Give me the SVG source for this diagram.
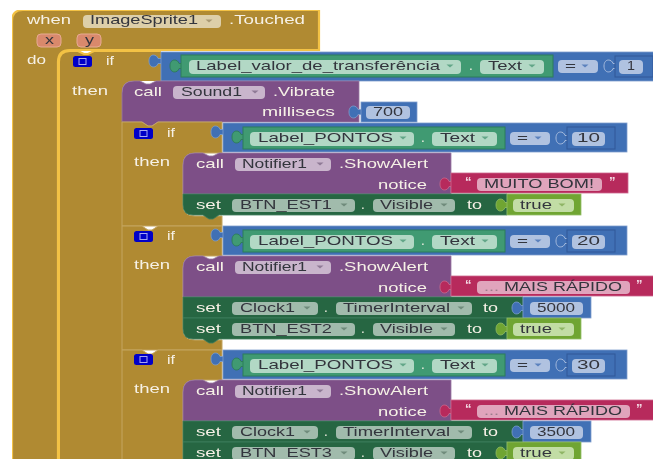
<svg xmlns="http://www.w3.org/2000/svg" width="653" height="459" viewBox="0 0 653 459">
<style>
text{font-family:"Liberation Sans",Arial,sans-serif;font-size:13.5px;transform:translateY(-.7px)}
.w{fill:#f6f1e6}.d{fill:#33343c}.dots{fill:#9a7b8a}
.gold{fill:#b08a33}.goldo{fill:#b08a33;stroke:#f3c244;stroke-width:2.2}.goldl{fill:none;stroke:#f3c244;stroke-width:2}.goldi{fill:#b08a33;stroke:#c4a55f;stroke-width:1}
.pur{fill:#7d5087;stroke:#9a7aa3;stroke-width:.8}.blu{fill:#3f6fb5;stroke:#7f9fcd;stroke-width:.8}.grn{fill:#3f9a72;stroke:#2f7d5b;stroke-width:1}
.set{fill:#266643;stroke:#3f7d5e;stroke-width:.8}.pnk{fill:#b7295c;stroke:#cd6a8e;stroke-width:.8}.tru{fill:#6fa531;stroke:#93bd66;stroke-width:.8}
.num{fill:#3f6fb5;stroke:#305a98;stroke-width:1}.numt{fill:#3f6fb5;stroke:#b0c2e0;stroke-width:.9}
.pg{fill:#ddcfa9}.pp{fill:#c9b5cc}.pe{fill:#b2d8c5}.ps{fill:#a1bbac}.pb{fill:#b0c2e0}.pk{fill:#e0a4bc}.pt{fill:#c2dda5}.po{fill:#d9896c;stroke:#e6aa92;stroke-width:1}
.ag{fill:#a99a74}.ap{fill:#8f7a96}.ae{fill:#62a688}.as{fill:#6f8b7b}.ab{fill:#5c82bd}.at{fill:#8fb565}
.ck{fill:#0000c8}.cki{fill:none;stroke:#a8a8f0;stroke-width:1}
.q{font-size:13px;font-weight:bold;fill:#f3dce5}
</style>
<defs>
<filter id="soft" x="0" y="0" width="100%" height="100%"><feGaussianBlur stdDeviation="0.35"/></filter>
<path id="arrow" d="M-3.5 -1.5h7l-3.500 3z"/>
<path id="tab" d="M1 -2.500H-3C-4 -7-12 -8-12 0C-12 8-4 7-3 2.500H1Z"/>
</defs>
<rect width="653" height="459" fill="#fff"/>
<g filter="url(#soft)">

<g id="when-block">
<path class="goldo" d="M12 470V21Q12 10 23 10H319V50H70Q58 50 58 62V470Z"/>
<text class="w" x="27" y="25" textLength="44" lengthAdjust="spacingAndGlyphs">when</text>
<rect class="pg" x="83" y="15" width="138" height="13" rx="4"/>
<text class="d" x="90" y="25" textLength="108" lengthAdjust="spacingAndGlyphs">ImageSprite1</text>
<use href="#arrow" class="ag" x="209" y="21"/>
<text class="w" x="229" y="25" textLength="76" lengthAdjust="spacingAndGlyphs">.Touched</text>
<rect class="po" x="37" y="34" width="24" height="13" rx="4"/>
<text class="d" x="45" y="45" textLength="9" lengthAdjust="spacingAndGlyphs">x</text>
<rect class="po" x="77" y="34" width="24" height="13" rx="4"/>
<text class="d" x="85" y="45" textLength="9" lengthAdjust="spacingAndGlyphs">y</text>
<text class="w" x="27" y="65" textLength="19" lengthAdjust="spacingAndGlyphs">do</text>
</g>

<g id="if-outer">
<path class="gold" d="M59 470V62Q59 51 70 51H78l6 3h4l6-3H161V81H134Q122 81 122 93V470Z"/>
<path class="goldl" d="M59 470V62Q59 51 70 51H78l6 3h4l6-3H161"/>
<rect class="ck" x="73" y="56" width="19" height="11" rx="2.500"/><rect class="cki" x="79" y="58.500" width="7" height="6"/>
<text class="w" x="106" y="66" textLength="8" lengthAdjust="spacingAndGlyphs">if</text>
<text class="w" x="72" y="96" textLength="36" lengthAdjust="spacingAndGlyphs">then</text>
</g>

<g id="cond-outer">
<use href="#tab" class="blu" x="161" y="61"/>
<rect class="blu" x="161" y="52" width="495" height="29"/>
<use href="#tab" class="grn" x="182" y="66"/>
<rect class="grn" x="181" y="55" width="372" height="22"/>
<rect class="pe" x="189" y="60" width="272" height="14" rx="4"/>
<text class="d" x="196" y="71" textLength="244" lengthAdjust="spacingAndGlyphs">Label_valor_de_transferência</text>
<use href="#arrow" class="ae" x="450" y="66"/>
<text class="w" x="469" y="71" textLength="4">.</text>
<rect class="pe" x="480" y="60" width="64" height="14" rx="4"/>
<text class="d" x="488" y="71" textLength="34" lengthAdjust="spacingAndGlyphs">Text</text>
<use href="#arrow" class="ae" x="532" y="66"/>
<rect class="pb" x="558" y="60" width="40" height="13" rx="4"/>
<text class="d" x="565" y="71" textLength="11" lengthAdjust="spacingAndGlyphs">=</text>
<use href="#arrow" class="ab" x="585" y="66"/>
<use href="#tab" class="numt" x="616" y="66"/>
<rect class="num" x="615" y="56" width="38" height="21"/>
<rect class="pb" x="619" y="60" width="24" height="14" rx="4"/>
<text class="d" x="627" y="71" textLength="8" lengthAdjust="spacingAndGlyphs">1</text>
</g>

<g id="call-vibrate">
<path class="pur" d="M122 122V93Q122 81 134 81H140l6 3h4l6-3H359V122H158l-6 4h-4l-6-4Z"/>
<text class="w" x="134" y="97" textLength="28" lengthAdjust="spacingAndGlyphs">call</text>
<rect class="pp" x="173" y="86" width="92" height="13" rx="4"/>
<text class="d" x="181" y="97" textLength="61" lengthAdjust="spacingAndGlyphs">Sound1</text>
<use href="#arrow" class="ap" x="255" y="92"/>
<text class="w" x="273" y="97" textLength="62" lengthAdjust="spacingAndGlyphs">.Vibrate</text>
<text class="w" x="262" y="117" textLength="73" lengthAdjust="spacingAndGlyphs">millisecs</text>
<use href="#tab" class="blu" x="361" y="112"/>
<rect class="blu" x="361" y="102" width="56" height="20"/>
<rect class="pb" x="366" y="106" width="44" height="13" rx="4"/>
<text class="d" x="373" y="117" textLength="30" lengthAdjust="spacingAndGlyphs">700</text>
</g>

<g id="if-10">
<path class="goldi" d="M122 226V122H142l6 4h4l6-4H222V153H195Q183 153 183 165V205Q183 216 195 216H222V226Z"/>
<rect class="ck" x="134" y="128" width="19" height="11" rx="2.500"/><rect class="cki" x="140" y="130.500" width="7" height="6"/>
<text class="w" x="167" y="138" textLength="8" lengthAdjust="spacingAndGlyphs">if</text>
<text class="w" x="134" y="167" textLength="36" lengthAdjust="spacingAndGlyphs">then</text>
<g transform="translate(0,123)">
<use href="#tab" class="blu" x="223" y="9"/>
<rect class="blu" x="223" y="0" width="404" height="29"/>
<use href="#tab" class="grn" x="244" y="14"/>
<rect class="grn" x="243" y="4" width="262" height="22"/>
<rect class="pe" x="250" y="9" width="164" height="14" rx="4"/>
<text class="d" x="258" y="20" textLength="135" lengthAdjust="spacingAndGlyphs">Label_PONTOS</text>
<use href="#arrow" class="ae" x="403" y="15"/>
<text class="w" x="421" y="20" textLength="4">.</text>
<rect class="pe" x="432" y="9" width="65" height="14" rx="4"/>
<text class="d" x="440" y="20" textLength="35" lengthAdjust="spacingAndGlyphs">Text</text>
<use href="#arrow" class="ae" x="485" y="15"/>
<rect class="pb" x="510" y="9" width="40" height="13" rx="4"/>
<text class="d" x="517" y="20" textLength="11" lengthAdjust="spacingAndGlyphs">=</text>
<use href="#arrow" class="ab" x="538" y="15"/>
<use href="#tab" class="numt" x="568" y="15"/>
<rect class="num" x="567" y="4" width="48" height="22"/>
<rect class="pb" x="572" y="9" width="33" height="14" rx="4"/>
<text class="d" x="577" y="20" textLength="23" lengthAdjust="spacingAndGlyphs">10</text>
</g>
<g transform="translate(0,153)">
<path class="pur" d="M183 41V12Q183 0 195 0H203l6 3h4l6-3H451V41Z"/>
<text class="w" x="196" y="16" textLength="28" lengthAdjust="spacingAndGlyphs">call</text>
<rect class="pp" x="235" y="5" width="96" height="13" rx="4"/>
<text class="d" x="242" y="16" textLength="65" lengthAdjust="spacingAndGlyphs">Notifier1</text>
<use href="#arrow" class="ap" x="320" y="11"/>
<text class="w" x="339" y="16" textLength="89" lengthAdjust="spacingAndGlyphs">.ShowAlert</text>
<text class="w" x="378" y="37" textLength="49" lengthAdjust="spacingAndGlyphs">notice</text>
<use href="#tab" class="pnk" x="452" y="31"/>
<rect class="pnk" x="451" y="20" width="177" height="20"/>
<text class="q" x="465" y="34">“</text>
<rect class="pk" x="477" y="25" width="125" height="13" rx="4"/>
<text class="d" x="484" y="36" textLength="110" lengthAdjust="spacingAndGlyphs">MUITO BOM!</text>
<text class="q" x="609" y="34">”</text>
</g>
<g transform="translate(0,194)">
<path class="set" d="M183 0H507V21H219l-6 4h-4l-6-4H193Q183 21 183 11Z"/>
<text class="w" x="196" y="16" textLength="25" lengthAdjust="spacingAndGlyphs">set</text>
<rect class="ps" x="232" y="5" width="123" height="13" rx="4"/>
<text class="d" x="240" y="16" textLength="92" lengthAdjust="spacingAndGlyphs">BTN_EST1</text>
<use href="#arrow" class="as" x="344" y="11"/>
<text class="w" x="361" y="16" textLength="4">.</text>
<rect class="ps" x="373" y="5" width="82" height="13" rx="4"/>
<text class="d" x="380" y="16" textLength="53" lengthAdjust="spacingAndGlyphs">Visible</text>
<use href="#arrow" class="as" x="444" y="11"/>
<text class="w" x="467" y="16" textLength="15" lengthAdjust="spacingAndGlyphs">to</text>
<use href="#tab" class="tru" x="508" y="11"/>
<rect class="tru" x="507" y="0" width="74" height="21"/>
<rect class="pt" x="513" y="5" width="61" height="13" rx="4"/>
<text class="d" x="520" y="16" textLength="32" lengthAdjust="spacingAndGlyphs">true</text>
<use href="#arrow" class="at" x="562" y="11"/>
</g>
</g>

<g id="if-20">
<path class="goldi" d="M122 350V226H142l6 4h4l6-4H222V256H195Q183 256 183 268V329Q183 340 195 340H222V350Z"/>
<rect class="ck" x="134" y="231" width="19" height="11" rx="2.500"/><rect class="cki" x="140" y="233.500" width="7" height="6"/>
<text class="w" x="167" y="241" textLength="8" lengthAdjust="spacingAndGlyphs">if</text>
<text class="w" x="134" y="270" textLength="36" lengthAdjust="spacingAndGlyphs">then</text>
<g transform="translate(0,226)">
<use href="#tab" class="blu" x="223" y="9"/>
<rect class="blu" x="223" y="0" width="404" height="29"/>
<use href="#tab" class="grn" x="244" y="14"/>
<rect class="grn" x="243" y="4" width="262" height="22"/>
<rect class="pe" x="250" y="9" width="164" height="14" rx="4"/>
<text class="d" x="258" y="20" textLength="135" lengthAdjust="spacingAndGlyphs">Label_PONTOS</text>
<use href="#arrow" class="ae" x="403" y="15"/>
<text class="w" x="421" y="20" textLength="4">.</text>
<rect class="pe" x="432" y="9" width="65" height="14" rx="4"/>
<text class="d" x="440" y="20" textLength="35" lengthAdjust="spacingAndGlyphs">Text</text>
<use href="#arrow" class="ae" x="485" y="15"/>
<rect class="pb" x="510" y="9" width="40" height="13" rx="4"/>
<text class="d" x="517" y="20" textLength="11" lengthAdjust="spacingAndGlyphs">=</text>
<use href="#arrow" class="ab" x="538" y="15"/>
<use href="#tab" class="numt" x="568" y="15"/>
<rect class="num" x="567" y="4" width="48" height="22"/>
<rect class="pb" x="572" y="9" width="33" height="14" rx="4"/>
<text class="d" x="577" y="20" textLength="23" lengthAdjust="spacingAndGlyphs">20</text>
</g>
<g transform="translate(0,256)">
<path class="pur" d="M183 41V12Q183 0 195 0H203l6 3h4l6-3H451V41Z"/>
<text class="w" x="196" y="16" textLength="28" lengthAdjust="spacingAndGlyphs">call</text>
<rect class="pp" x="235" y="5" width="96" height="13" rx="4"/>
<text class="d" x="242" y="16" textLength="65" lengthAdjust="spacingAndGlyphs">Notifier1</text>
<use href="#arrow" class="ap" x="320" y="11"/>
<text class="w" x="339" y="16" textLength="89" lengthAdjust="spacingAndGlyphs">.ShowAlert</text>
<text class="w" x="378" y="37" textLength="49" lengthAdjust="spacingAndGlyphs">notice</text>
<use href="#tab" class="pnk" x="452" y="31"/>
<rect class="pnk" x="451" y="20" width="205" height="20"/>
<text class="q" x="465" y="34">“</text>
<rect class="pk" x="477" y="25" width="153" height="13" rx="4"/>
<text class="d" x="484" y="36" textLength="138" lengthAdjust="spacingAndGlyphs"><tspan class="dots">...</tspan> MAIS RÁPIDO</text>
<text class="q" x="636" y="34">”</text>
</g>
<g transform="translate(0,297)">
<path class="set" d="M183 0H523V21H183Z"/>
<text class="w" x="196" y="16" textLength="25" lengthAdjust="spacingAndGlyphs">set</text>
<rect class="ps" x="232" y="5" width="86" height="13" rx="4"/>
<text class="d" x="240" y="16" textLength="55" lengthAdjust="spacingAndGlyphs">Clock1</text>
<use href="#arrow" class="as" x="307" y="11"/>
<text class="w" x="324" y="16" textLength="4">.</text>
<rect class="ps" x="336" y="5" width="136" height="13" rx="4"/>
<text class="d" x="343" y="16" textLength="107" lengthAdjust="spacingAndGlyphs">TimerInterval</text>
<use href="#arrow" class="as" x="461" y="11"/>
<text class="w" x="483" y="16" textLength="15" lengthAdjust="spacingAndGlyphs">to</text>
<use href="#tab" class="blu" x="524" y="11"/>
<rect class="blu" x="523" y="0" width="68" height="21"/>
<rect class="pb" x="530" y="5" width="53" height="13" rx="4"/>
<text class="d" x="537" y="16" textLength="38" lengthAdjust="spacingAndGlyphs">5000</text>
</g>
<g transform="translate(0,318)">
<path class="set" d="M183 0H507V21H219l-6 4h-4l-6-4H193Q183 21 183 11Z"/>
<text class="w" x="196" y="16" textLength="25" lengthAdjust="spacingAndGlyphs">set</text>
<rect class="ps" x="232" y="5" width="123" height="13" rx="4"/>
<text class="d" x="240" y="16" textLength="92" lengthAdjust="spacingAndGlyphs">BTN_EST2</text>
<use href="#arrow" class="as" x="344" y="11"/>
<text class="w" x="361" y="16" textLength="4">.</text>
<rect class="ps" x="373" y="5" width="82" height="13" rx="4"/>
<text class="d" x="380" y="16" textLength="53" lengthAdjust="spacingAndGlyphs">Visible</text>
<use href="#arrow" class="as" x="444" y="11"/>
<text class="w" x="467" y="16" textLength="15" lengthAdjust="spacingAndGlyphs">to</text>
<use href="#tab" class="tru" x="508" y="11"/>
<rect class="tru" x="507" y="0" width="74" height="21"/>
<rect class="pt" x="513" y="5" width="61" height="13" rx="4"/>
<text class="d" x="520" y="16" textLength="32" lengthAdjust="spacingAndGlyphs">true</text>
<use href="#arrow" class="at" x="562" y="11"/>
</g>
</g>

<g id="if-30">
<path class="goldi" d="M122 470V350H142l6 4h4l6-4H222V380H195Q183 380 183 392V470Z"/>
<rect class="ck" x="134" y="354" width="19" height="11" rx="2.500"/><rect class="cki" x="140" y="356.500" width="7" height="6"/>
<text class="w" x="167" y="365" textLength="8" lengthAdjust="spacingAndGlyphs">if</text>
<text class="w" x="134" y="394" textLength="36" lengthAdjust="spacingAndGlyphs">then</text>
<g transform="translate(0,350)">
<use href="#tab" class="blu" x="223" y="9"/>
<rect class="blu" x="223" y="0" width="404" height="29"/>
<use href="#tab" class="grn" x="244" y="14"/>
<rect class="grn" x="243" y="4" width="262" height="22"/>
<rect class="pe" x="250" y="9" width="164" height="14" rx="4"/>
<text class="d" x="258" y="20" textLength="135" lengthAdjust="spacingAndGlyphs">Label_PONTOS</text>
<use href="#arrow" class="ae" x="403" y="15"/>
<text class="w" x="421" y="20" textLength="4">.</text>
<rect class="pe" x="432" y="9" width="65" height="14" rx="4"/>
<text class="d" x="440" y="20" textLength="35" lengthAdjust="spacingAndGlyphs">Text</text>
<use href="#arrow" class="ae" x="485" y="15"/>
<rect class="pb" x="510" y="9" width="40" height="13" rx="4"/>
<text class="d" x="517" y="20" textLength="11" lengthAdjust="spacingAndGlyphs">=</text>
<use href="#arrow" class="ab" x="538" y="15"/>
<use href="#tab" class="numt" x="568" y="15"/>
<rect class="num" x="567" y="4" width="48" height="22"/>
<rect class="pb" x="572" y="9" width="33" height="14" rx="4"/>
<text class="d" x="577" y="20" textLength="23" lengthAdjust="spacingAndGlyphs">30</text>
</g>
<g transform="translate(0,380)">
<path class="pur" d="M183 41V12Q183 0 195 0H203l6 3h4l6-3H451V41Z"/>
<text class="w" x="196" y="16" textLength="28" lengthAdjust="spacingAndGlyphs">call</text>
<rect class="pp" x="235" y="5" width="96" height="13" rx="4"/>
<text class="d" x="242" y="16" textLength="65" lengthAdjust="spacingAndGlyphs">Notifier1</text>
<use href="#arrow" class="ap" x="320" y="11"/>
<text class="w" x="339" y="16" textLength="89" lengthAdjust="spacingAndGlyphs">.ShowAlert</text>
<text class="w" x="378" y="37" textLength="49" lengthAdjust="spacingAndGlyphs">notice</text>
<use href="#tab" class="pnk" x="452" y="31"/>
<rect class="pnk" x="451" y="20" width="205" height="20"/>
<text class="q" x="465" y="34">“</text>
<rect class="pk" x="477" y="25" width="153" height="13" rx="4"/>
<text class="d" x="484" y="36" textLength="138" lengthAdjust="spacingAndGlyphs"><tspan class="dots">...</tspan> MAIS RÁPIDO</text>
<text class="q" x="636" y="34">”</text>
</g>
<g transform="translate(0,421)">
<path class="set" d="M183 0H523V21H183Z"/>
<text class="w" x="196" y="16" textLength="25" lengthAdjust="spacingAndGlyphs">set</text>
<rect class="ps" x="232" y="5" width="86" height="13" rx="4"/>
<text class="d" x="240" y="16" textLength="55" lengthAdjust="spacingAndGlyphs">Clock1</text>
<use href="#arrow" class="as" x="307" y="11"/>
<text class="w" x="324" y="16" textLength="4">.</text>
<rect class="ps" x="336" y="5" width="136" height="13" rx="4"/>
<text class="d" x="343" y="16" textLength="107" lengthAdjust="spacingAndGlyphs">TimerInterval</text>
<use href="#arrow" class="as" x="461" y="11"/>
<text class="w" x="483" y="16" textLength="15" lengthAdjust="spacingAndGlyphs">to</text>
<use href="#tab" class="blu" x="524" y="11"/>
<rect class="blu" x="523" y="0" width="68" height="21"/>
<rect class="pb" x="530" y="5" width="53" height="13" rx="4"/>
<text class="d" x="537" y="16" textLength="38" lengthAdjust="spacingAndGlyphs">3500</text>
</g>
<g transform="translate(0,442)">
<path class="set" d="M183 0H507V21H183Z"/>
<text class="w" x="196" y="16" textLength="25" lengthAdjust="spacingAndGlyphs">set</text>
<rect class="ps" x="232" y="5" width="123" height="13" rx="4"/>
<text class="d" x="240" y="16" textLength="92" lengthAdjust="spacingAndGlyphs">BTN_EST3</text>
<use href="#arrow" class="as" x="344" y="11"/>
<text class="w" x="361" y="16" textLength="4">.</text>
<rect class="ps" x="373" y="5" width="82" height="13" rx="4"/>
<text class="d" x="380" y="16" textLength="53" lengthAdjust="spacingAndGlyphs">Visible</text>
<use href="#arrow" class="as" x="444" y="11"/>
<text class="w" x="467" y="16" textLength="15" lengthAdjust="spacingAndGlyphs">to</text>
<use href="#tab" class="tru" x="508" y="11"/>
<rect class="tru" x="507" y="0" width="74" height="21"/>
<rect class="pt" x="513" y="5" width="61" height="13" rx="4"/>
<text class="d" x="520" y="16" textLength="32" lengthAdjust="spacingAndGlyphs">true</text>
<use href="#arrow" class="at" x="562" y="11"/>
</g>
</g>

<g id="connectors"/>
</g>
</svg>
